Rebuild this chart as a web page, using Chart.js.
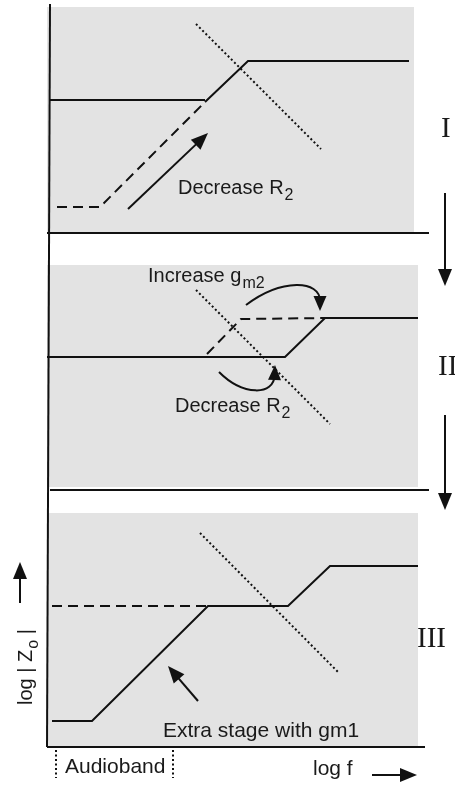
<!DOCTYPE html>
<html>
<head>
<meta charset="utf-8">
<script src="https://cdn.jsdelivr.net/npm/chart.js@4/dist/chart.umd.min.js"></script>
<style>
  html, body { margin: 0; padding: 0; background: #fff; }
  #wrap { width: 455px; height: 788px; }
</style>
</head>
<body>
<div id="wrap"><canvas id="zChart"></canvas></div>
<script>
// diagram units: x = log f, y = log |Zo| (stacked panels, y grows downward)
const panelBoxes = [[47, 7, 414, 232], [47, 265, 418, 487], [47, 513, 418, 747]];

const yAxisLine = [{ x: 50, y: 4 }, { x: 47, y: 747 }];
const axisI = [{ x: 47, y: 233 }, { x: 429, y: 233 }];
const axisII = [{ x: 50, y: 490 }, { x: 429, y: 490 }];
const axisIII = [{ x: 47, y: 747 }, { x: 425, y: 747 }];

// panel I
const solidI_low = [{ x: 50, y: 100 }, { x: 205, y: 100 }];
const solidI = [{ x: 205, y: 102 }, { x: 248, y: 61 }, { x: 409, y: 61 }];
const dashI = [{ x: 57, y: 207 }, { x: 100, y: 207 }, { x: 205, y: 102 }];
const dotI = [{ x: 196, y: 24 }, { x: 321, y: 149 }];

// panel II
const solidII = [{ x: 47, y: 357 }, { x: 285, y: 357 }, { x: 325, y: 318 }, { x: 418, y: 318 }];
const dashII = [{ x: 207, y: 354 }, { x: 241, y: 319 }, { x: 325, y: 318 }];
const dotII = [{ x: 196, y: 290 }, { x: 330, y: 424 }];

// panel III
const solidIII = [{ x: 52, y: 721 }, { x: 92, y: 721 }, { x: 208, y: 606 }, { x: 288, y: 606 }, { x: 330, y: 566 }, { x: 418, y: 566 }];
const dashIII = [{ x: 52, y: 606 }, { x: 208, y: 606 }];
const dotIII = [{ x: 200, y: 533 }, { x: 338, y: 672 }];

// audioband markers
const audioLo = [{ x: 56, y: 750 }, { x: 56, y: 778 }];
const audioHi = [{ x: 173, y: 750 }, { x: 173, y: 778 }];

// straight arrows [from, to]
const arrows = [
  [[128, 209], [208, 133]],
  [[198, 701], [168, 666]],
  [[445, 193], [445, 286]],
  [[445, 415], [445, 510]],
  [[20, 603], [20, 562]],
  [[372, 775], [417, 775]]
];
// curved arrows [start, cp1, cp2, tip]
const curvedArrows = [
  [[246, 305], [282, 278], [320, 280], [320, 311]],
  [[219, 372], [243, 396], [274, 396], [275, 365]]
];

// labels: [text, sub, tail, x, baseline y, kind]
const labels = [
  ["Decrease R", "2", "", 178, 194, "sans"],
  ["Increase g", "m2", "", 148, 282, "sans"],
  ["Decrease R", "2", "", 175, 412, "sans"],
  ["Extra stage with gm1", "", "", 163, 737, "big"],
  ["Audioband", "", "", 65, 773, "big"],
  ["log f", "", "", 313, 775, "big"],
  ["I", "", "", 441, 137, "serif"],
  ["II", "", "", 438, 375, "serif"],
  ["III", "", "", 417, 647, "serif"]
];

const INK = "#111";
const SANS = "'Liberation Sans', Arial, sans-serif";
const SERIF = "'Liberation Serif', 'Times New Roman', serif";
const DOTS = [2, 2.5];

function seg(data, opts) {
  return Object.assign({
    data: data, showLine: true, pointRadius: 0, borderColor: INK,
    borderWidth: 2, fill: false, tension: 0
  }, opts || {});
}

function head(ctx, tx, ty, ang, len, wid) {
  ctx.beginPath();
  ctx.moveTo(tx, ty);
  ctx.lineTo(tx - len * Math.cos(ang) + wid / 2 * Math.sin(ang), ty - len * Math.sin(ang) - wid / 2 * Math.cos(ang));
  ctx.lineTo(tx - len * Math.cos(ang) - wid / 2 * Math.sin(ang), ty - len * Math.sin(ang) + wid / 2 * Math.cos(ang));
  ctx.closePath();
  ctx.fill();
}

function drawText(ctx, px, py, t) {
  const size = t[5] == "serif" ? 29 : (t[5] == "big" ? 21 : 20);
  const face = t[5] == "serif" ? SERIF : SANS;
  ctx.font = size + "px " + face;
  ctx.textBaseline = "alphabetic";
  ctx.textAlign = "left";
  ctx.fillText(t[0], px, py);
  let w = ctx.measureText(t[0]).width;
  if (t[1]) {
    ctx.font = "16px " + SANS;
    ctx.fillText(t[1], px + w + 1, py + 6);
    w += ctx.measureText(t[1]).width + 1;
  }
  if (t[2]) {
    ctx.font = size + "px " + face;
    ctx.fillText(t[2], px + w, py);
  }
}

const decorPlugin = {
  id: "decor",
  beforeDatasetsDraw(chart) {
    const { ctx, scales: { x, y } } = chart;
    ctx.save();
    ctx.fillStyle = "#e3e3e3";
    panelBoxes.forEach(b => {
      const x0 = x.getPixelForValue(b[0]), y0 = y.getPixelForValue(b[1]);
      ctx.fillRect(x0, y0, x.getPixelForValue(b[2]) - x0, y.getPixelForValue(b[3]) - y0);
    });
    ctx.restore();
  },
  afterDatasetsDraw(chart) {
    const { ctx, scales: { x, y } } = chart;
    const P = p => [x.getPixelForValue(p[0]), y.getPixelForValue(p[1])];
    ctx.save();
    ctx.strokeStyle = INK;
    ctx.fillStyle = INK;
    ctx.lineWidth = 2;

    arrows.forEach(a => {
      const s = P(a[0]), e = P(a[1]);
      const ang = Math.atan2(e[1] - s[1], e[0] - s[0]);
      ctx.beginPath();
      ctx.moveTo(s[0], s[1]);
      ctx.lineTo(e[0] - 10 * Math.cos(ang), e[1] - 10 * Math.sin(ang));
      ctx.stroke();
      head(ctx, e[0], e[1], ang, 17, 14);
    });

    curvedArrows.forEach(c => {
      const p = c.map(P);
      const ang = Math.atan2(p[3][1] - p[2][1], p[3][0] - p[2][0]);
      const ex = p[3][0] - 10 * Math.cos(ang), ey = p[3][1] - 10 * Math.sin(ang);
      ctx.beginPath();
      ctx.moveTo(p[0][0], p[0][1]);
      ctx.bezierCurveTo(p[1][0], p[1][1], p[2][0], p[2][1], ex, ey);
      ctx.stroke();
      head(ctx, p[3][0], p[3][1], ang, 15, 13);
    });

    ctx.fillStyle = "#1a1a1a";
    labels.forEach(t => {
      const q = P([t[3], t[4]]);
      drawText(ctx, q[0], q[1], t);
    });

    // rotated y label
    const r = P([32, 705]);
    ctx.translate(r[0], r[1]);
    ctx.rotate(-Math.PI / 2);
    drawText(ctx, 0, 0, ["log | Z", "o", " |", 0, 0, "sans"]);
    ctx.restore();
  }
};

new Chart(document.getElementById("zChart"), {
  type: "scatter",
  data: {
    datasets: [
      seg(yAxisLine), seg(axisI), seg(axisII), seg(axisIII),
      seg(solidI_low), seg(solidI),
      seg(dashI, { borderDash: [10, 6] }),
      seg(dotI, { borderDash: DOTS }),
      seg(solidII),
      seg(dashII, { borderDash: [10, 6] }),
      seg(dotII, { borderDash: DOTS }),
      seg(solidIII),
      seg(dashIII, { borderDash: [10, 6] }),
      seg(dotIII, { borderDash: DOTS }),
      seg(audioLo, { borderDash: DOTS }),
      seg(audioHi, { borderDash: DOTS })
    ]
  },
  options: {
    responsive: true,
    maintainAspectRatio: false,
    animation: false,
    events: [],
    layout: { padding: 0 },
    plugins: { legend: { display: false }, tooltip: { enabled: false } },
    scales: {
      x: { type: "linear", min: 0, max: 455, display: false },
      y: { type: "linear", min: 0, max: 788, reverse: true, display: false }
    }
  },
  plugins: [decorPlugin]
});
</script>
</body>
</html>
